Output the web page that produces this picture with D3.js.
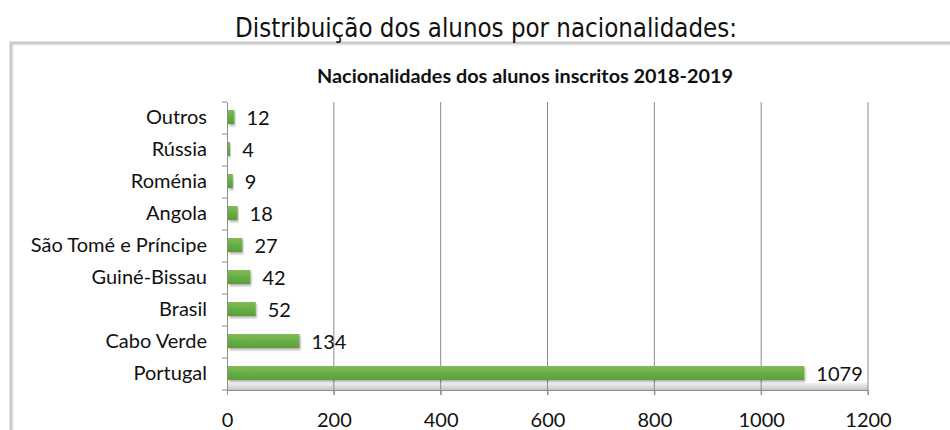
<!DOCTYPE html>
<html><head><meta charset="utf-8">
<script src="https://cdn.jsdelivr.net/npm/d3@7"></script>
<style>body{margin:0;background:#fff}svg{display:block}</style>
</head><body>
<svg id="c" width="950" height="430"></svg>
<script>
const pageTitle = "Distribuição dos alunos por nacionalidades:";
const chartTitle = "Nacionalidades dos alunos inscritos 2018-2019";
const categories = ["Outros","Rússia","Roménia","Angola","São Tomé e Príncipe","Guiné-Bissau","Brasil","Cabo Verde","Portugal"];
const values = [12,4,9,18,27,42,52,134,1079];
const xTicks = [0,200,400,600,800,1000,1200];

const svg = d3.select("#c");
const defs = svg.append("defs");
const g1 = defs.append("linearGradient").attr("id","bar").attr("x1",0).attr("y1",0).attr("x2",0).attr("y2",1);
g1.append("stop").attr("offset","0%").attr("stop-color","#7dbb5a");
g1.append("stop").attr("offset","50%").attr("stop-color","#6aad45");
g1.append("stop").attr("offset","100%").attr("stop-color","#5c9e3a");
const g2 = defs.append("linearGradient").attr("id","floor").attr("x1",0).attr("y1",0).attr("x2",0).attr("y2",1);
g2.append("stop").attr("offset","0%").attr("stop-color","#f2f2f2");
g2.append("stop").attr("offset","100%").attr("stop-color","#c4c4c4");
const f = defs.append("filter").attr("id","sh").attr("x","-5%").attr("y","-30%").attr("width","115%").attr("height","190%");
f.append("feDropShadow").attr("dx",1).attr("dy",2).attr("stdDeviation",1.2).attr("flood-color","#000").attr("flood-opacity",0.3);

const font = "Lato, Open Sans, sans-serif";

// frame
svg.append("path").attr("d","M11,430 V43 H950").attr("fill","none").attr("stroke","#c9c9c9").attr("stroke-width",3);
svg.append("path").attr("d","M13,430 V45 H950").attr("fill","none").attr("stroke","#e6e6e6").attr("stroke-width",1);

svg.append("text").attr("x",486).attr("y",37).attr("text-anchor","middle")
  .attr("font-family","DejaVu Sans Condensed, DejaVu Sans").attr("font-size",27).attr("fill","#111")
  .attr("textLength",502).attr("lengthAdjust","spacingAndGlyphs").text(pageTitle);

svg.append("text").attr("x",525).attr("y",83).attr("text-anchor","middle")
  .attr("font-family",font).attr("font-weight","bold").attr("font-size",18).attr("fill","#111")
  .attr("textLength",416).attr("lengthAdjust","spacingAndGlyphs").text(chartTitle);

const x = d3.scaleLinear().domain([0,1200]).range([227,868]);
const y = d3.scaleBand().domain(categories).range([102,390]);

// floor
svg.append("rect").attr("x",227).attr("y",383).attr("width",641).attr("height",7).attr("fill","url(#floor)");

// gridlines
svg.append("g").selectAll("line").data(xTicks.slice(1)).join("line")
  .attr("x1",d=>x(d)).attr("x2",d=>x(d)).attr("y1",102).attr("y2",395)
  .attr("stroke","#8c8c8c").attr("stroke-width",1);

// x axis
const xa = svg.append("g").attr("transform","translate(0,390)")
  .call(d3.axisBottom(x).tickValues(xTicks).tickSize(5).tickPadding(18).tickFormat(d3.format("d")));
xa.select(".domain").attr("stroke","#8c8c8c");
xa.selectAll(".tick line").attr("stroke","#8c8c8c");
xa.selectAll("text").attr("font-family",font).attr("font-size",20).attr("fill","#111");

// y axis
const ya = svg.append("g").attr("transform","translate(227,0)")
  .call(d3.axisLeft(y).tickSize(0).tickPadding(20));
ya.select(".domain").attr("stroke","#8c8c8c");
ya.selectAll("text").attr("font-family",font).attr("font-size",20).attr("fill","#111");
ya.append("g").selectAll("line").data(d3.range(categories.length+1)).join("line")
  .attr("x1",-5).attr("x2",0)
  .attr("y1",i=>102+i*y.step()).attr("y2",i=>102+i*y.step()).attr("stroke","#8c8c8c");

// bars
const bh = 14;
svg.append("g").selectAll("rect").data(values).join("rect")
  .attr("x",x(0)+1).attr("y",(d,i)=>y(categories[i])+y.bandwidth()/2-bh/2-1)
  .attr("width",d=>x(d)-x(0)).attr("height",bh)
  .attr("fill","url(#bar)").attr("filter","url(#sh)");

svg.append("g").selectAll("text").data(values).join("text")
  .attr("x",d=>x(d)+13).attr("y",(d,i)=>y(categories[i])+y.bandwidth()/2)
  .attr("dy","0.35em")
  .attr("font-family",font).attr("font-size",20).attr("fill","#111")
  .text(d=>d);
</script>
</body></html>
